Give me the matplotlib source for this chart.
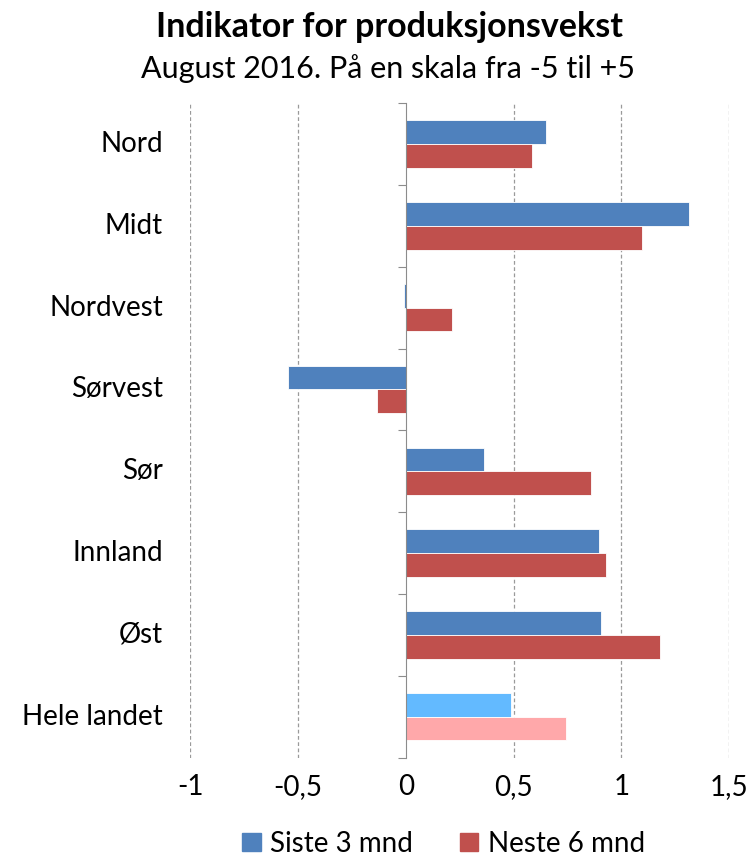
import numpy as np
import matplotlib.pyplot as plt
from matplotlib.ticker import FuncFormatter

# data
regions = ['Nord', 'Midt', 'Nordvest', 'Sørvest', 'Sør', 'Innland', 'Øst', 'Hele landet']
siste_3 = [0.65, 1.315, -0.007, -0.546, 0.364, 0.898, 0.907, 0.49]
neste_6 = [0.586, 1.095, 0.213, -0.132, 0.858, 0.931, 1.179, 0.744]
xticks = [-1, -0.5, 0, 0.5, 1, 1.5]

blue = '#4F81BD'
red = '#C0504D'
blue_light = '#63BAFF'
red_light = '#FFA8AA'

plt.rcParams['font.family'] = ['Lato', 'DejaVu Sans']

fig = plt.figure(figsize=(7.51, 8.59), dpi=100)
ax = fig.add_axes([0.253, 0.118, 0.718, 0.762])

n = len(regions)
y = np.arange(n)
h = 0.29
cb = [blue] * (n - 1) + [blue_light]
cr = [red] * (n - 1) + [red_light]
ax.barh(y - h / 2, siste_3, height=h, color=cb, edgecolor='white', linewidth=0.6, zorder=3)
ax.barh(y + h / 2, neste_6, height=h, color=cr, edgecolor='white', linewidth=0.6, zorder=3)

ax.set_ylim(n - 0.5, -0.5)
ax.set_xlim(-1, 1.5)
ax.set_xticks(xticks)
ax.xaxis.set_major_formatter(FuncFormatter(lambda v, p: ('%g' % v).replace('.', ',')))
ax.tick_params(axis='x', length=0, labelsize=20, pad=12)

for v in xticks:
    if v != 0:
        ax.axvline(v, color='#9a9a9a', linestyle=(0, (3, 2)), linewidth=0.9, zorder=1)

for s in ['top', 'right', 'bottom']:
    ax.spines[s].set_visible(False)
ax.spines['left'].set_position(('data', 0))
ax.spines['left'].set_color('#8c8c8c')
ax.spines['left'].set_zorder(4)

ax.set_yticks(np.arange(-0.5, n, 1.0))
ax.set_yticklabels([])
ax.tick_params(axis='y', length=6, color='#8c8c8c', direction='out')

for i, r in enumerate(regions):
    ax.text(-0.05, i, r, transform=ax.get_yaxis_transform(), ha='right', va='center', fontsize=20)

fig.text(0.518, 0.957, 'Indikator for produksjonsvekst', ha='center', va='baseline',
         fontsize=24.5, fontweight='bold')
fig.text(0.517, 0.909, 'August 2016. På en skala fra -5 til +5', ha='center', va='baseline',
         fontsize=22)

handles = [plt.Rectangle((0, 0), 1, 1, color=blue), plt.Rectangle((0, 0), 1, 1, color=red)]
fig.legend(handles, ['Siste 3 mnd', 'Neste 6 mnd'], loc='center', bbox_to_anchor=(0.591, 0.018),
           ncol=2, frameon=False, fontsize=20, handlelength=0.65, handleheight=0.65,
           columnspacing=1.7, handletextpad=0.35)

fig.savefig('out.png', dpi=100)
